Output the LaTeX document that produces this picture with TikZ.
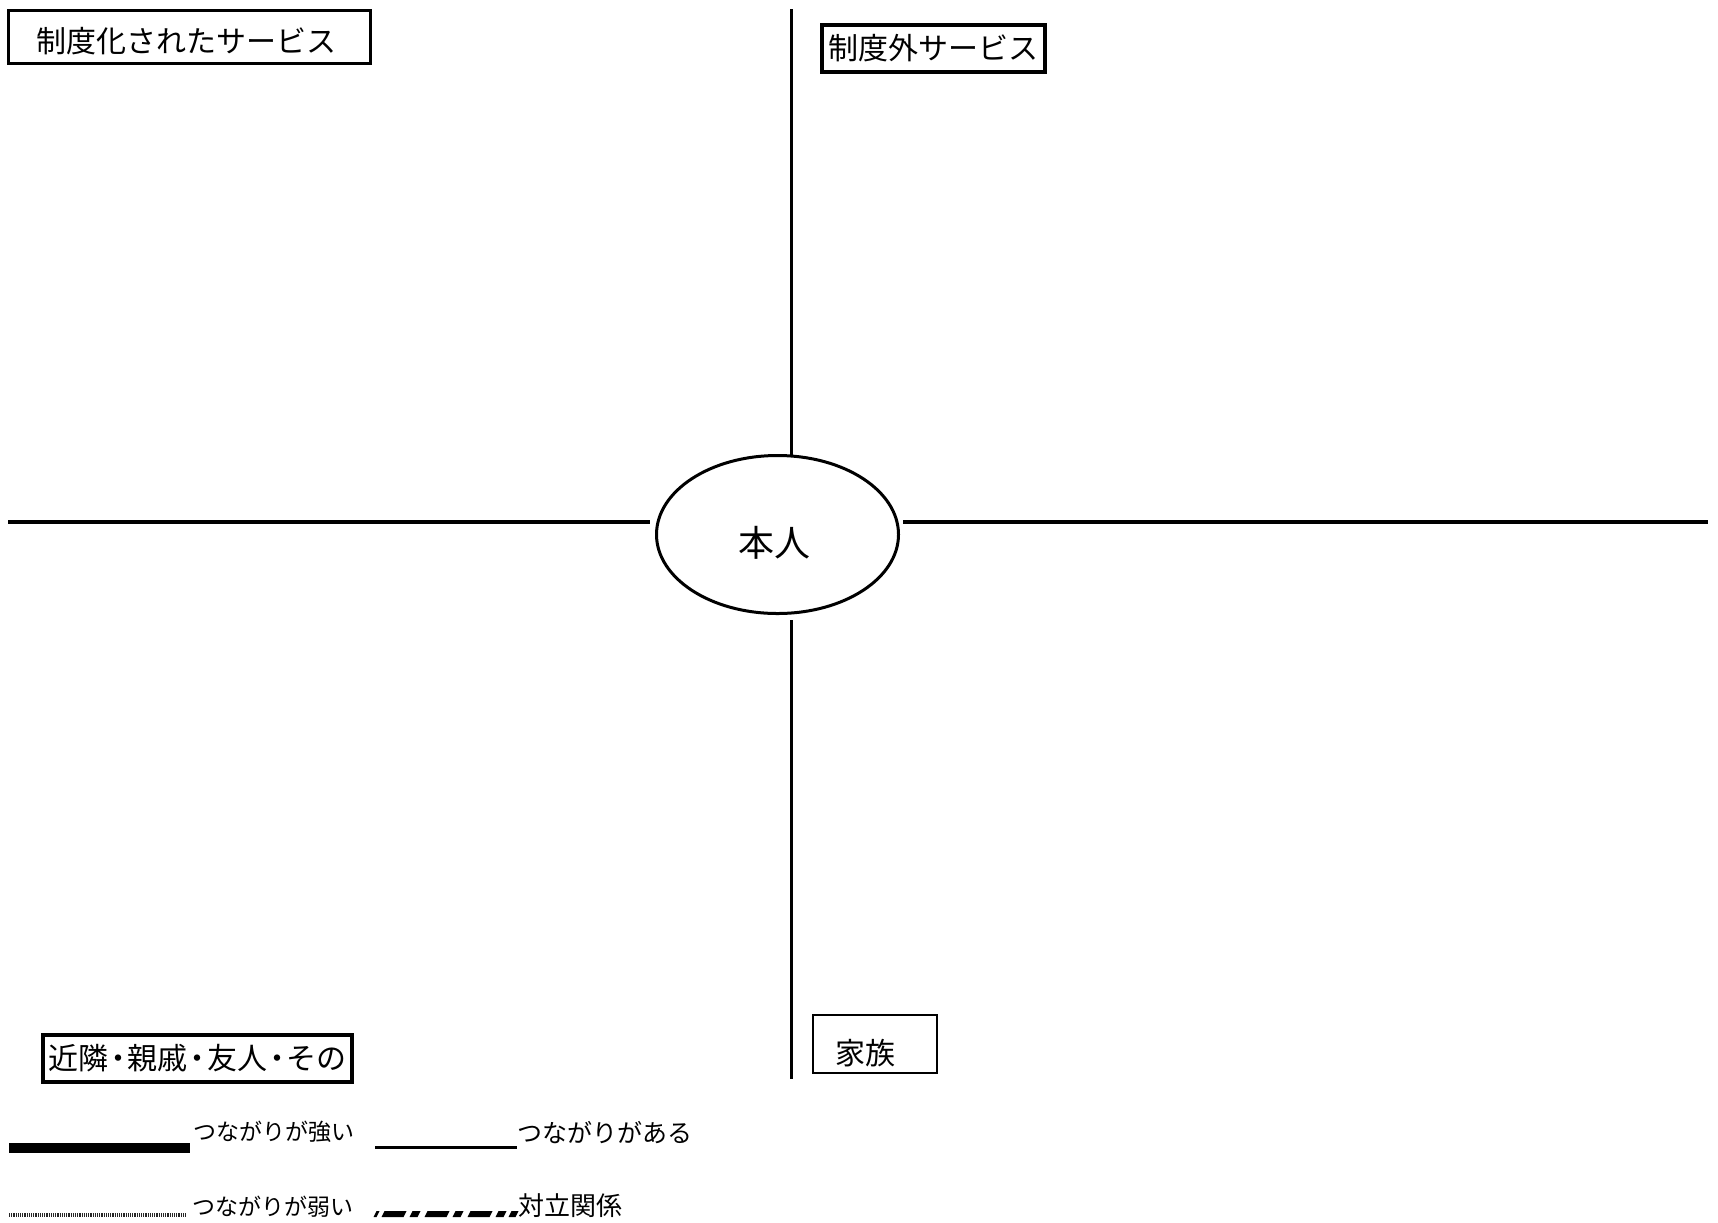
\documentclass[tikz,border=0pt]{standalone}
\usepackage{fontspec}
\setmainfont{Noto Sans CJK JP}
\usetikzlibrary{shapes.geometric}
\begin{document}
\begin{tikzpicture}[x=0.5pt,y=-0.5pt,
  axis/.style={line width=1.75pt},
  catbox/.style={draw, line width=1.6pt, inner sep=0pt, font=\fontsize{15pt}{18pt}\selectfont},
  legtext/.style={anchor=west, inner sep=0pt},
]
\useasboundingbox (0,0) rectangle (1718,1222);

% centre ellipse
\node[ellipse, draw, line width=1.5pt, minimum width=121pt, minimum height=79pt, inner sep=0pt,
  label={[name=selftext, font=\fontsize{18pt}{21pt}\selectfont, xshift=-1.75pt, yshift=-4.25pt]center:本人}]
  (self) at (777.5,534.5) {};

% axes
\coordinate (topend) at (791.5,9);
\coordinate (topin) at (791.5,455);
\coordinate (botin) at (791.5,620);
\coordinate (botend) at (791.5,1079);
\coordinate (leftend) at (8,522);
\coordinate (leftin) at (650,522);
\coordinate (rightin) at (903,522);
\coordinate (rightend) at (1708,522);
\draw[axis] (topend) -- (topin);
\draw[axis] (botin) -- (botend);
\draw[axis] (leftend) -- (leftin);
\draw[axis] (rightin) -- (rightend);

% category boxes
\node[catbox, line width=1.5pt, minimum width=181pt, minimum height=26.5pt,
  label={[name=b1text, font=\fontsize{15pt}{18pt}\selectfont, xshift=-1.5pt, yshift=-2.5pt]center:制度化されたサービス}]
  (box1) at (189,36.5) {};
\node[catbox, minimum width=111.5pt, minimum height=23.5pt] (box2) at (933.5,48.5) {制度外サービス};
\node[catbox, minimum width=154.5pt, minimum height=23.5pt]
  (box3) at (197.5,1058.5) {近隣\makebox[0.65em][c]{・}親戚\makebox[0.65em][c]{・}友人\makebox[0.65em][c]{・}その};
\node[catbox, line width=0.65pt, minimum width=62pt, minimum height=29pt,
  label={[name=b4text, font=\fontsize{15pt}{18pt}\selectfont, xshift=-5pt, yshift=-4.5pt]center:家族}]
  (box4) at (875,1044) {};

% legend
\coordinate (l1a) at (9,1148);   \coordinate (l1b) at (190,1148);
\coordinate (l2a) at (375,1147); \coordinate (l2b) at (517,1147);
\coordinate (l3a) at (9,1215);   \coordinate (l3b) at (187,1215);
\draw[line width=5pt] (l1a) -- (l1b);
\draw[line width=1.5pt] (l2a) -- (l2b);
\draw[line width=2pt, black!85, dash pattern=on 0.6pt off 0.5pt] (l3a) -- (l3b);
% conflict sample: slanted dashes
\foreach \xa/\xb in {375/378, 383/405, 411/419, 426/448, 454/462, 469/491, 497/505, 510/517}
  \fill[black] (\xa+1.5,1211) -- (\xb+1.5,1211) -- (\xb-1.5,1217) -- (\xa-1.5,1217) -- cycle;

\node[legtext, font=\fontsize{11.5pt}{13pt}\selectfont] (t1) at (193,1132) {つながりが強い};
\node[legtext, font=\fontsize{12.5pt}{15pt}\selectfont] (t2) at (517,1133) {つながりがある};
\node[legtext, font=\fontsize{11.5pt}{13pt}\selectfont] (t3) at (192,1207) {つながりが弱い};
\node[legtext, font=\fontsize{13pt}{15pt}\selectfont] (t4) at (518,1206) {対立関係};
\end{tikzpicture}
\end{document}
